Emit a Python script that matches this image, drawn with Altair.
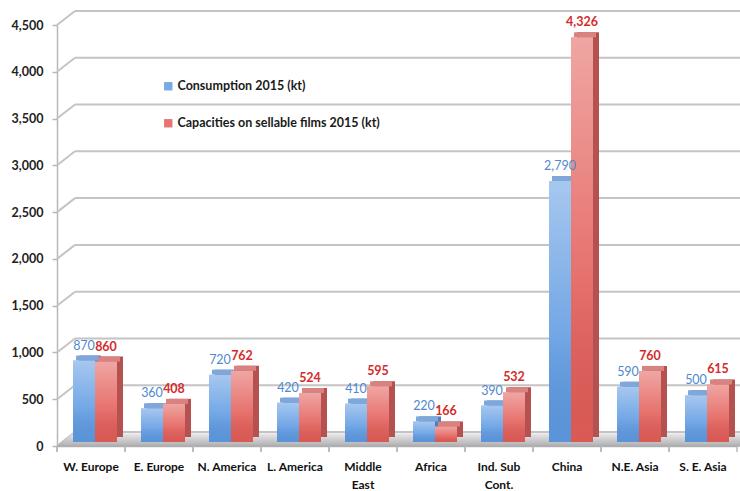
import altair as alt
import pandas as pd

# Regions and the two series (kt)
categories = ["W. Europe", "E. Europe", "N. America", "L. America", "Middle East",
              "Africa", "Ind. Sub Cont.", "China", "N.E. Asia", "S. E. Asia"]
consumption = [870, 360, 720, 420, 410, 220, 390, 2790, 590, 500]
capacities = [860, 408, 762, 524, 595, 166, 532, 4326, 760, 615]
series_names = ["Consumption 2015 (kt)", "Capacities on sellable films 2015 (kt)"]
y_ticks = [0, 500, 1000, 1500, 2000, 2500, 3000, 3500, 4000, 4500]

front_colors = ["#5e9ae2", "#e35d58"]
top_colors = ["#7fa7da", "#d8837f"]
side_colors = ["#4c7fc4", "#b5524f"]

W, H = 680, 421
FONT = "Lato"
BAR = 22  # width of one bar's front face, px

rows = []
for i, c in enumerate(categories):
    rows.append({"c": c, "s": series_names[0], "v": consumption[i],
                 "top": top_colors[0], "side": side_colors[0]})
    rows.append({"c": c, "s": series_names[1], "v": capacities[i],
                 "top": top_colors[1], "side": side_colors[1]})
df = pd.DataFrame(rows)
ticks_df = pd.DataFrame({"t": y_ticks})

x_enc = alt.X("c:N", sort=categories,
              scale=alt.Scale(paddingInner=0, paddingOuter=0),
              axis=alt.Axis(title=None, ticks=False, tickSize=0, labelPadding=20,
                            labelAngle=0, labelAlign="center", labelFont=FONT,
                            labelFontWeight="bold", labelFontSize=12, labelColor="#111",
                            labelLineHeight=18, domainColor="#b8b8b8",
                            domainWidth=1.5,
                            labelExpr="datum.label == 'Middle East' ? ['Middle', 'East'] : "
                                      "datum.label == 'Ind. Sub Cont.' ? ['Ind. Sub', 'Cont.'] : datum.label"))


def xo(shift):
    """Sub-band of each series inside a region, moved right by `shift` px."""
    return alt.XOffset("s:N", sort=series_names,
                       scale=alt.Scale(type="band", domain=series_names,
                                       range=[16 + shift, 16 + 2 * BAR + shift],
                                       paddingInner=0, paddingOuter=0))


def xo_mid():
    """Centre of each series' front face inside a region (for the value labels)."""
    return alt.XOffset("s:N", sort=series_names,
                       scale=alt.Scale(type="point", domain=series_names,
                                       range=[16 + BAR / 2, 16 + 1.5 * BAR], padding=0))


y_scale = alt.Scale(domain=[0, 4500], nice=False, zero=True)
y_enc = alt.Y("v:Q", scale=y_scale, stack=None,
              axis=alt.Axis(title=None, values=y_ticks, format=",d", grid=False,
                            tickSize=5, tickColor="#b8b8b8", tickWidth=1.5,
                            domainColor="#b8b8b8", domainWidth=1.5,
                            labelPadding=9, labelFont=FONT, labelFontWeight="bold",
                            labelFontSize=12.5, labelColor="#222"))

base = alt.Chart(df)

# back wall gridlines and their diagonal connectors to the axis
grid_back = alt.Chart(ticks_df).mark_rule(color="#c4c4c4", strokeWidth=2, yOffset=-14).encode(
    y=alt.Y("t:Q", scale=y_scale), x=alt.value(18), x2=alt.value(W + 3))
grid_diag = alt.Chart(ticks_df).mark_rule(color="#c4c4c4", strokeWidth=2, y2Offset=-14).encode(
    y=alt.Y("t:Q", scale=y_scale), y2="t:Q", x=alt.value(0), x2=alt.value(18))

# floor slab, built from thin horizontal strips receding towards the back wall
floor = alt.Chart(alt.sequence(0, 13, as_="i")).transform_calculate(
    x0="datum.i * 16 / 12",
    yy=f"{H} - datum.i",
    col="'rgb(' + round(168 + datum.i * 5) + ',' + round(168 + datum.i * 5) + ',' + round(170 + datum.i * 5) + ')'",
).mark_rule(strokeWidth=1.4).encode(
    x=alt.X("x0:Q", scale=None), x2=alt.value(W + 3),
    y=alt.Y("yy:Q", scale=None), stroke=alt.Stroke("col:N", scale=None))

# category boundary ticks under the floor
cat_ticks = base.mark_rule(color="#b8b8b8", strokeWidth=1.5).encode(
    x=alt.X("c:N", sort=categories, bandPosition=0), y=alt.value(H), y2=alt.value(H + 6))
end_tick = alt.Chart(ticks_df.head(1)).mark_rule(color="#b8b8b8", strokeWidth=1.5).encode(
    x=alt.value(W), y=alt.value(H), y2=alt.value(H + 6))

# extruded faces of each bar
side = base.mark_bar(yOffset=-9, y2Offset=-9).encode(
    x=x_enc, xOffset=xo(6), y=y_enc, y2=alt.datum(0), fill=alt.Fill("side:N", scale=None))
top = base.mark_bar(yOffset=-9, y2Offset=-4).encode(
    x=x_enc, xOffset=xo(3), y=y_enc, y2="v:Q", fill=alt.Fill("top:N", scale=None))

front = base.mark_bar(yOffset=-4, y2Offset=-4).encode(
    x=x_enc, xOffset=xo(0), y=y_enc, y2=alt.datum(0),
    color=alt.Color("s:N", sort=series_names,
                    scale=alt.Scale(domain=series_names, range=front_colors),
                    legend=alt.Legend(title=None, orient="none", legendX=105, legendY=55,
                                      direction="vertical", symbolType="square",
                                      symbolSize=70, symbolStrokeWidth=0, symbolOpacity=0.85,
                                      rowPadding=24, labelOffset=3,
                                      labelFont=FONT, labelFontWeight="bold",
                                      labelFontSize=12.5, labelColor="#1a1a1a", labelLimit=400)))

shine = base.mark_bar(
    yOffset=-4, y2Offset=-4,
    fill=alt.LinearGradient(gradient="linear", x1=0, y1=0, x2=0, y2=1,
                            stops=[alt.GradientStop(color="rgba(255,255,255,0.45)", offset=0),
                                   alt.GradientStop(color="rgba(255,255,255,0.12)", offset=0.6),
                                   alt.GradientStop(color="rgba(0,0,0,0.04)", offset=1)]),
).encode(x=x_enc, xOffset=xo(0), y=y_enc, y2=alt.datum(0))

# value labels, centred over each front face
lab_blue = base.transform_filter(alt.datum.s == series_names[0]).mark_text(
    baseline="bottom", dy=-12, font=FONT, fontSize=12.5, color="#4f88d0"
).encode(x=x_enc, xOffset=xo_mid(), y=y_enc, text=alt.Text("v:Q", format=","))
lab_red = base.transform_filter(alt.datum.s == series_names[1]).mark_text(
    baseline="bottom", dy=-12, font=FONT, fontSize=12.5, fontWeight="bold", color="#d42b2b"
).encode(x=x_enc, xOffset=xo_mid(), y=y_enc, text=alt.Text("v:Q", format=","))

chart = alt.layer(
    grid_back, grid_diag, floor, cat_ticks, end_tick, side, top, front, shine, lab_blue, lab_red
).resolve_scale(
    xOffset="independent"
).properties(
    width=W, height=H,
    autosize=alt.AutoSizeParams(type="none"),
    padding={"left": 57, "top": 25, "right": 3, "bottom": 45},
    background="white",
).configure_view(stroke=None)

chart.save("out.html", embed_options={"renderer": "svg", "actions": False})
